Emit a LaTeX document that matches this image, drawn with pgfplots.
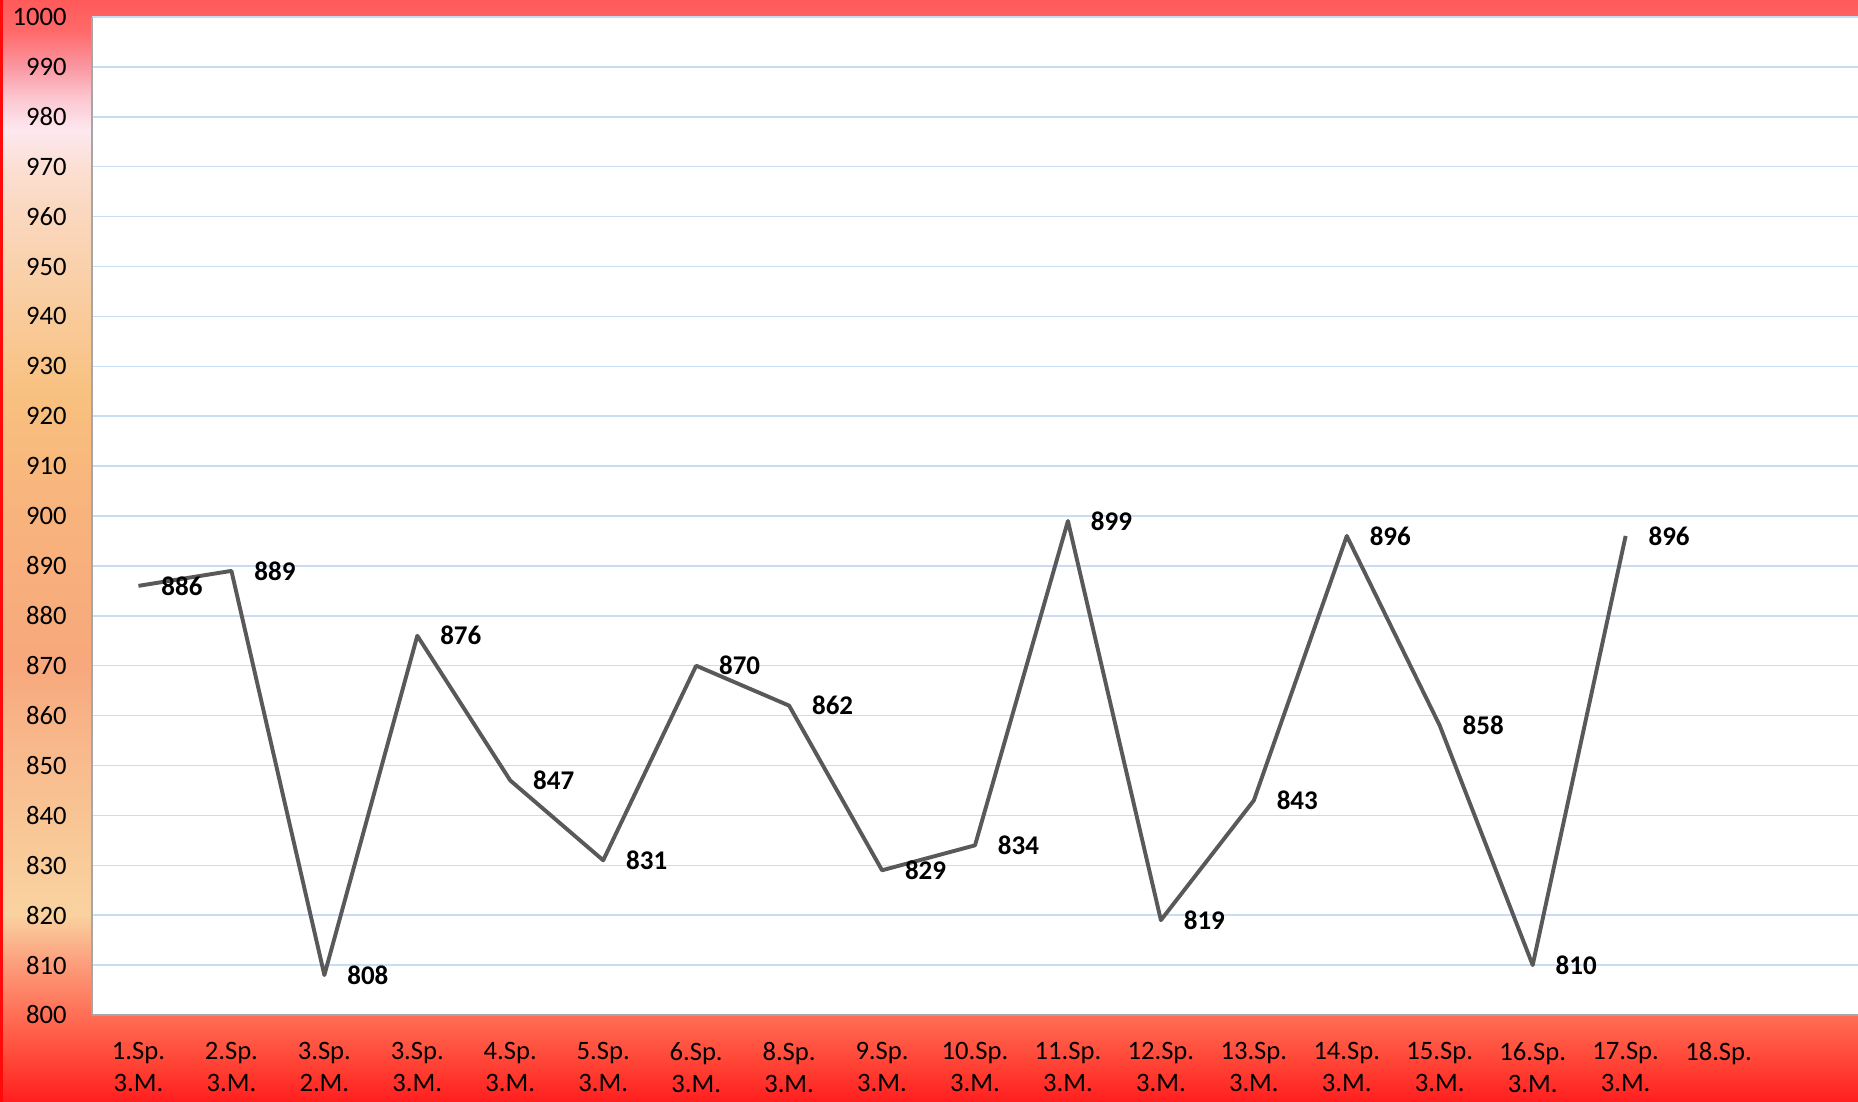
\documentclass[border=0pt]{standalone}
\usepackage{fontspec}
\setmainfont{Carlito}
\usepackage{pgfplots}
\pgfplotsset{compat=1.18}

\definecolor{linegray}{RGB}{89,89,89}
\definecolor{gridblue}{RGB}{200,220,244}
\definecolor{axisgray}{RGB}{166,166,166}
\definecolor{edgered}{RGB}{255,10,10}

% chart area fill, bottom to top
\definecolor{f01}{RGB}{255,30,30}
\definecolor{f02}{RGB}{255,70,55}
\definecolor{f03}{RGB}{255,110,85}
\definecolor{f04}{RGB}{252,160,125}
\definecolor{f05}{RGB}{249,210,160}
\definecolor{f06}{RGB}{249,205,155}
\definecolor{f07}{RGB}{248,185,140}
\definecolor{f08}{RGB}{247,168,124}
\definecolor{f09}{RGB}{248,180,125}
\definecolor{f10}{RGB}{248,192,126}
\definecolor{f11}{RGB}{249,205,160}
\definecolor{f12}{RGB}{250,215,190}
\definecolor{f13}{RGB}{252,224,212}
\definecolor{f14}{RGB}{253,232,240}
\definecolor{f15}{RGB}{252,200,210}
\definecolor{f16}{RGB}{250,150,160}
\definecolor{f17}{RGB}{255,105,105}
\definecolor{f18}{RGB}{255,90,90}

\pgfdeclareverticalshading{chartfire}{100bp}{
  color(0bp)=(f01); color(25bp)=(f01); color(26.9bp)=(f02);
  color(28.95bp)=(f03); color(31.4bp)=(f04); color(33.5bp)=(f05);
  color(35.5bp)=(f06); color(41bp)=(f07); color(44.8bp)=(f08);
  color(52.3bp)=(f09); color(56.9bp)=(f10); color(61.4bp)=(f11);
  color(65.3bp)=(f12); color(67.5bp)=(f13); color(69.1bp)=(f14);
  color(70.5bp)=(f15); color(72bp)=(f16); color(73.6bp)=(f17);
  color(75bp)=(f18); color(100bp)=(f18)}

\begin{document}
\begin{tikzpicture}
% background of the whole chart
\shade[shading=chartfire] (-46pt,-43.5pt) rectangle (883pt,507.5pt);
\draw[edgered, line width=1.5pt] (-45.25pt,-43.5pt) -- (-45.25pt,507.5pt);

\begin{axis}[
  at={(0,0)}, anchor=south west,
  scale only axis,
  width=883pt, height=499pt,
  xmin=-0.5, xmax=18.5,
  ymin=800, ymax=1000,
  axis background/.style={fill=white},
  axis x line*=bottom, axis y line*=left,
  axis line style={axisgray, line width=0.6pt, -},
  ymajorgrids,
  major grid style={gridblue, line width=0.75pt},
  major tick length=0pt,
  ytick={800,810,...,1000},
  xtick={0,...,18},
  xticklabels={{1.Sp.\\3.M.},{2.Sp.\\3.M.},{3.Sp.\\2.M.},{3.Sp.\\3.M.},
    {4.Sp.\\3.M.},{5.Sp.\\3.M.},{6.Sp.\\3.M.},{8.Sp.\\3.M.},{9.Sp.\\3.M.},
    {10.Sp.\\3.M.},{11.Sp.\\3.M.},{12.Sp.\\3.M.},{13.Sp.\\3.M.},
    {14.Sp.\\3.M.},{15.Sp.\\3.M.},{16.Sp.\\3.M.},{17.Sp.\\3.M.},{18.Sp.},{}},
  /pgf/number format/assume math mode=true,
  /pgf/number format/1000 sep={},
  ticklabel style={font=\fontsize{13.3}{16}\selectfont, text=black},
  yticklabel style={anchor=east, inner sep=0pt, xshift=-12.5pt},
  xticklabel style={anchor=north, inner sep=0pt, yshift=-13.5pt, align=center},
  clip=false,
  nodes near coords,
  nodes near coords style={anchor=west, inner sep=0pt, xshift=10.5pt,
    font=\fontsize{13.5}{16}\selectfont\bfseries, text=black},
]
\addplot[linegray, line width=1.95pt, line join=round, mark=none] coordinates {
  (0,886) (1,889) (2,808) (3,876) (4,847) (5,831) (6,870) (7,862) (8,829)
  (9,834) (10,899) (11,819) (12,843) (13,896) (14,858) (15,810) (16,896)
};
\end{axis}

\pgfresetboundingbox
\useasboundingbox (-46pt,-43.5pt) rectangle (883pt,507.5pt);
\end{tikzpicture}
\end{document}
